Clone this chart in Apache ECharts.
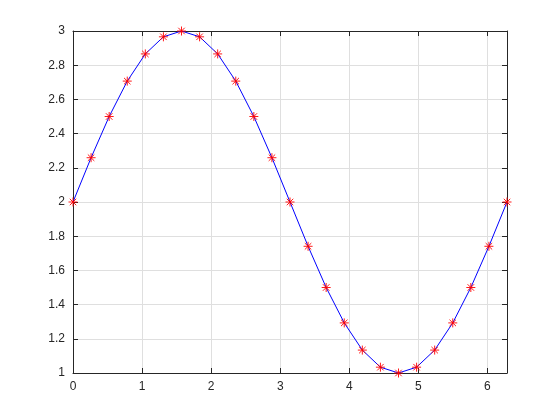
<!DOCTYPE html>
<html>
<head>
<meta charset="utf-8">
<script src="https://cdn.jsdelivr.net/npm/echarts@6/dist/echarts.min.js"></script>
<style>html,body{margin:0;padding:0;background:#fff;}#c{width:560px;height:420px;}</style>
</head>
<body>
<div id="c"></div>
<script>
var xValues = [0, 0.2618, 0.5236, 0.7854, 1.0472, 1.3090, 1.5708, 1.8326, 2.0944, 2.3562, 2.6180, 2.8798, 3.1416, 3.4034, 3.6652, 3.9270, 4.1888, 4.4506, 4.7124, 4.9742, 5.2360, 5.4978, 5.7596, 6.0214, 6.2832];
var yValues = [2.000, 2.259, 2.500, 2.707, 2.866, 2.966, 3.000, 2.966, 2.866, 2.707, 2.500, 2.259, 2.000, 1.741, 1.500, 1.293, 1.134, 1.034, 1.000, 1.034, 1.134, 1.293, 1.500, 1.741, 2.000];
var xTicks = [0, 1, 2, 3, 4, 5, 6];
var yTicks = [1, 1.2, 1.4, 1.6, 1.8, 2, 2.2, 2.4, 2.6, 2.8, 3];

var data = xValues.map(function (x, i) { return [x, yValues[i]]; });
var axisColor = '#262626';
var font = 'Helvetica, Arial, "Liberation Sans", sans-serif';

function xAxisCfg(pos, showLabel, showGrid) {
  return {
    type: 'value', position: pos, min: 0, max: 6.2832, interval: 1,
    axisLine: { show: true, onZero: false, lineStyle: { color: axisColor, width: 1 } },
    axisTick: { show: true, inside: true, length: 5, lineStyle: { color: axisColor } },
    axisLabel: { show: showLabel, color: axisColor, fontSize: 12, fontFamily: font, margin: 8,
      showMaxLabel: false,
      formatter: function (v) { return xTicks.indexOf(v) >= 0 ? String(v) : ''; } },
    splitLine: { show: showGrid, lineStyle: { color: '#dfdfdf', width: 1 } }
  };
}
function yAxisCfg(pos, showLabel, showGrid) {
  return {
    type: 'value', position: pos, min: 1, max: 3, interval: 0.2,
    axisLine: { show: true, onZero: false, lineStyle: { color: axisColor, width: 1 } },
    axisTick: { show: true, inside: true, length: 5, lineStyle: { color: axisColor } },
    axisLabel: { show: showLabel, color: axisColor, fontSize: 12, fontFamily: font, margin: 8,
      formatter: function (v) { var r = Math.round(v * 10) / 10; return String(r); } },
    splitLine: { show: showGrid, lineStyle: { color: '#dfdfdf', width: 1 } }
  };
}

var chart = echarts.init(document.getElementById('c'), null, { renderer: 'canvas' });
chart.setOption({
  backgroundColor: '#ffffff',
  animation: false,
  grid: { left: 73, right: 53, top: 31, bottom: 47, containLabel: false },
  xAxis: [xAxisCfg('bottom', true, true), xAxisCfg('top', false, false)],
  yAxis: [yAxisCfg('left', true, true), yAxisCfg('right', false, false)],
  series: [{
    type: 'line',
    data: data,
    xAxisIndex: 0, yAxisIndex: 0,
    showAllSymbol: true,
    symbol: 'path://M0,-5L0,5M-5,0L5,0M-3.6,-3.6L3.6,3.6M-3.6,3.6L3.6,-3.6',
    symbolSize: 9,
    lineStyle: { color: '#0000ff', width: 1 },
    itemStyle: { color: 'rgba(0,0,0,0)', borderColor: '#ff0000', borderWidth: 0.9 },
    z: 5
  }]
});
</script>
</body>
</html>
